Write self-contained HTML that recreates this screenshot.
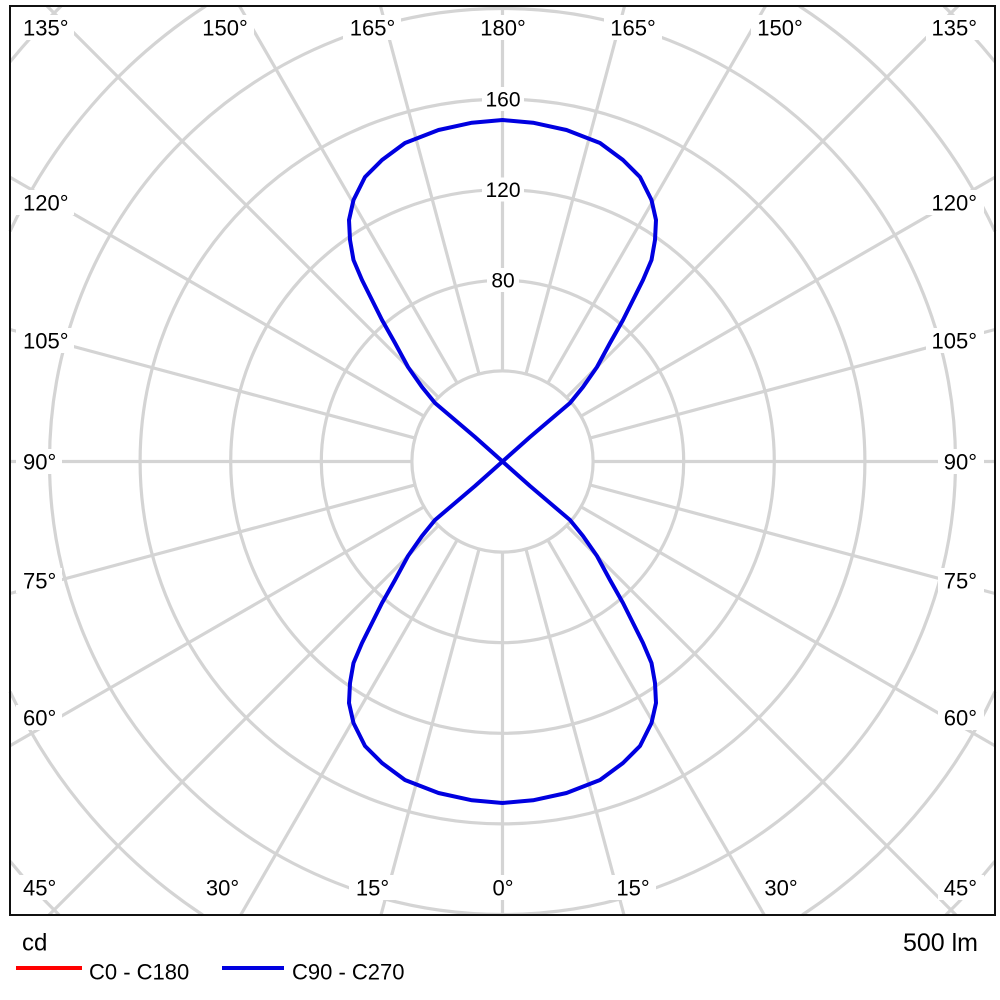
<!DOCTYPE html>
<html>
<head>
<meta charset="utf-8">
<style>
  html, body { margin: 0; padding: 0; background: #ffffff; overflow: hidden; }
  html, body { width: 1000px; height: 1000px; }
  svg { display: block; }
  text { font-family: "Liberation Sans", Arial, sans-serif; fill: #000000; }
</style>
</head>
<body>
<svg width="1000" height="1000" viewBox="0 0 1000 1000" xmlns="http://www.w3.org/2000/svg">
  <rect x="0" y="0" width="1000" height="1000" fill="#ffffff"/>

  <!-- radial grid lines, clipped to frame manually -->
  <g stroke="#d4d4d4" stroke-width="3.2" fill="none">
    <line x1="502.5" y1="6" x2="502.5" y2="915"/>
    <line x1="380.45" y1="6" x2="624" y2="915"/>
    <line x1="624.55" y1="6" x2="381" y2="915"/>
    <line x1="239.5" y1="6" x2="764.3" y2="915"/>
    <line x1="765.5" y1="6" x2="240.7" y2="915"/>
    <line x1="47" y1="6" x2="956" y2="915"/>
    <line x1="958" y1="6" x2="49" y2="915"/>
    <line x1="10" y1="177.2" x2="995" y2="745.8"/>
    <line x1="995" y1="177.2" x2="10" y2="745.8"/>
    <line x1="10" y1="329.5" x2="995" y2="593.5"/>
    <line x1="995" y1="329.5" x2="10" y2="593.5"/>
    <line x1="10" y1="461.5" x2="995" y2="461.5"/>

    <!-- concentric circles -->
    <circle cx="502.5" cy="461.5" r="90.6" fill="#ffffff"/>
    <circle cx="502.5" cy="461.5" r="181.2"/>
    <circle cx="502.5" cy="461.5" r="271.8"/>
    <circle cx="502.5" cy="461.5" r="362.4"/>
    <circle cx="502.5" cy="461.5" r="453"/>
    <!-- r = 543.6 visible arcs -->
    <path d="M10,231.4 A543.6,543.6 0 0 1 205.8,6"/>
    <path d="M799.2,6 A543.6,543.6 0 0 1 995,231.4"/>
    <path d="M995,691.6 A543.6,543.6 0 0 1 802.2,915"/>
    <path d="M202.8,915 A543.6,543.6 0 0 1 10,691.6"/>
    <!-- r = 634.2 visible arcs -->
    <path d="M10,61.9 A634.2,634.2 0 0 1 61.2,6"/>
    <path d="M943.8,6 A634.2,634.2 0 0 1 995,61.9"/>
    <path d="M995,861.1 A634.2,634.2 0 0 1 945.8,915"/>
    <path d="M59.2,915 A634.2,634.2 0 0 1 10,861.1"/>
  </g>

  <!-- label backgrounds -->
  <g fill="#ffffff">
    <!-- left column -->
    <rect x="16" y="15" width="58" height="25"/>
    <rect x="16" y="190" width="58" height="25"/>
    <rect x="16" y="328" width="58" height="25"/>
    <rect x="16" y="449" width="46" height="25"/>
    <rect x="16" y="568" width="46" height="25"/>
    <rect x="16" y="705" width="46" height="25"/>
    <rect x="16" y="875" width="46" height="25"/>
    <!-- right column -->
    <rect x="926" y="15" width="58" height="25"/>
    <rect x="926" y="190" width="58" height="25"/>
    <rect x="926" y="328" width="58" height="25"/>
    <rect x="938" y="449" width="46" height="25"/>
    <rect x="938" y="568" width="46" height="25"/>
    <rect x="938" y="705" width="46" height="25"/>
    <rect x="938" y="875" width="46" height="25"/>
    <!-- top row -->
    <rect x="196" y="15" width="58" height="25"/>
    <rect x="343" y="15" width="58" height="25"/>
    <rect x="474" y="15" width="58" height="25"/>
    <rect x="604" y="15" width="58" height="25"/>
    <rect x="751" y="15" width="58" height="25"/>
    <!-- bottom row -->
    <rect x="199" y="875" width="46" height="25"/>
    <rect x="349" y="875" width="46" height="25"/>
    <rect x="488" y="875" width="30" height="25"/>
    <rect x="610" y="875" width="46" height="25"/>
    <rect x="758" y="875" width="46" height="25"/>
    <!-- value labels -->
    <rect x="482" y="87" width="42" height="24"/>
    <rect x="482" y="177.5" width="42" height="24"/>
    <rect x="487" y="268" width="32" height="24"/>
  </g>

  <!-- angle labels -->
  <g font-size="22">
    <text x="23" y="35.5">135°</text>
    <text x="23" y="210.5">120°</text>
    <text x="23" y="348.5">105°</text>
    <text x="23" y="469.5">90°</text>
    <text x="23" y="588.5">75°</text>
    <text x="23" y="725.5">60°</text>
    <text x="23" y="895.5">45°</text>

    <text x="977" y="35.5" text-anchor="end">135°</text>
    <text x="977" y="210.5" text-anchor="end">120°</text>
    <text x="977" y="348.5" text-anchor="end">105°</text>
    <text x="977" y="469.5" text-anchor="end">90°</text>
    <text x="977" y="588.5" text-anchor="end">75°</text>
    <text x="977" y="725.5" text-anchor="end">60°</text>
    <text x="977" y="895.5" text-anchor="end">45°</text>

    <text x="225" y="35.5" text-anchor="middle">150°</text>
    <text x="372.5" y="35.5" text-anchor="middle">165°</text>
    <text x="503" y="35.5" text-anchor="middle">180°</text>
    <text x="633" y="35.5" text-anchor="middle">165°</text>
    <text x="780" y="35.5" text-anchor="middle">150°</text>

    <text x="222.5" y="895.5" text-anchor="middle">30°</text>
    <text x="372.5" y="895.5" text-anchor="middle">15°</text>
    <text x="503" y="895.5" text-anchor="middle">0°</text>
    <text x="633" y="895.5" text-anchor="middle">15°</text>
    <text x="781" y="895.5" text-anchor="middle">30°</text>
  </g>
  <g font-size="21" text-anchor="middle">
    <text x="503" y="106.5">160</text>
    <text x="503" y="197">120</text>
    <text x="503" y="287.5">80</text>
  </g>

  <!-- C90 - C270 curve -->
  <path fill="none" stroke="#0000e0" stroke-width="4" stroke-linejoin="round" stroke-linecap="round"
    d="M502.5,461.5
       L530,437 L550,420 L570,403 L583,387 L597,367 L610,343 L623,320 L633,300 L643,280
       L651.5,260 L655,240 L656,220 L651.5,200 L640,177 L623,160 L600,143 L566.5,130 L533,122.7
       L502.5,120
       L472,122.7 L438.5,130 L405,143 L382,160 L365,177 L353.5,200 L349,220 L350,240 L353.5,260
       L362,280 L372,300 L382,320 L395,343 L408,367 L422,387 L435,403 L455,420 L475,437
       L502.5,461.5
       L530,486 L550,503 L570,520 L583,536 L597,556 L610,580 L623,603 L633,623 L643,643
       L651.5,663 L655,683 L656,703 L651.5,723 L640,746 L623,763 L600,780 L566.5,793 L533,800.3
       L502.5,803
       L472,800.3 L438.5,793 L405,780 L382,763 L365,746 L353.5,723 L349,703 L350,683 L353.5,663
       L362,643 L372,623 L382,603 L395,580 L408,556 L422,536 L435,520 L455,503 L475,486
       Z"/>

  <!-- frame -->
  <rect x="10" y="6" width="985" height="909" fill="none" stroke="#111111" stroke-width="2"/>

  <!-- legend -->
  <text x="22" y="950.5" font-size="24">cd</text>
  <text x="978" y="951" font-size="25" text-anchor="end">500 lm</text>
  <line x1="16" y1="968" x2="82" y2="968" stroke="#ff0000" stroke-width="4"/>
  <text x="89" y="979.5" font-size="22">C0 - C180</text>
  <line x1="222" y1="968" x2="284" y2="968" stroke="#0000e0" stroke-width="4"/>
  <text x="292" y="979.5" font-size="22">C90 - C270</text>
</svg>
</body>
</html>
